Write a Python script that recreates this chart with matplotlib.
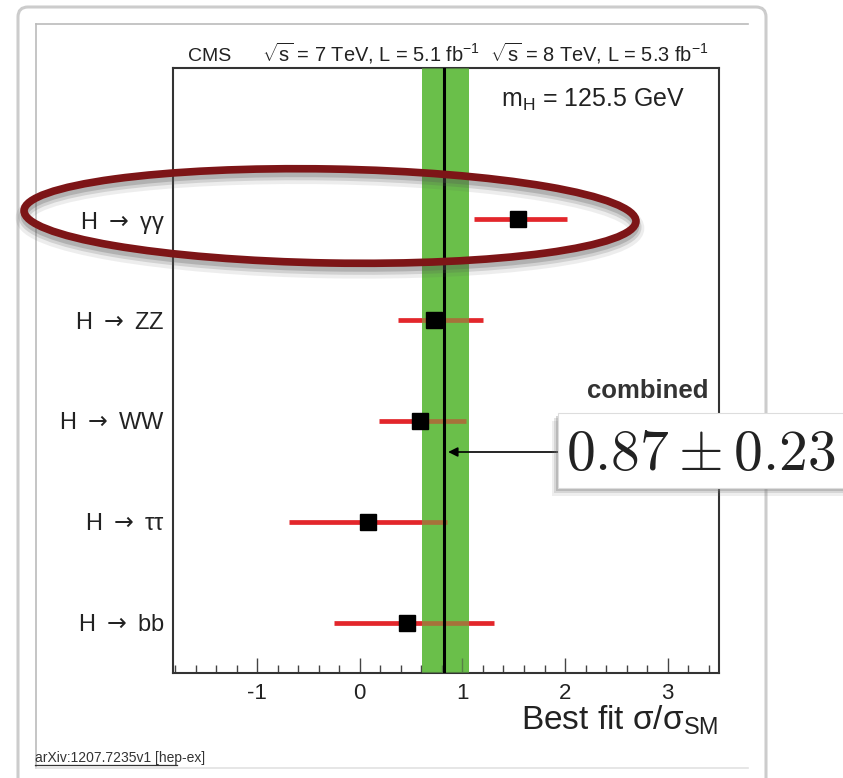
import matplotlib
matplotlib.use("Agg")
import matplotlib.pyplot as plt
from matplotlib.patches import Ellipse, Rectangle, FancyBboxPatch
from matplotlib.lines import Line2D
from matplotlib.transforms import IdentityTransform
from matplotlib.ticker import MultipleLocator

plt.rcParams['font.family'] = ['Liberation Sans', 'DejaVu Sans']
plt.rcParams['mathtext.fontset'] = 'custom'
plt.rcParams['mathtext.rm'] = 'Liberation Sans'
plt.rcParams['mathtext.it'] = 'Liberation Sans:italic'
plt.rcParams['mathtext.bf'] = 'Liberation Sans:bold'
plt.rcParams['mathtext.sf'] = 'Liberation Sans'
plt.rcParams['axes.unicode_minus'] = False

# ---------------- data ----------------
channels = ['H $\\rightarrow$ bb', 'H $\\rightarrow$ ττ', 'H $\\rightarrow$ WW',
            'H $\\rightarrow$ ZZ', 'H $\\rightarrow$ γγ']   # bottom to top
mu = [0.46, 0.08, 0.59, 0.72, 1.54]
mu_lo = [-0.25, -0.69, 0.19, 0.37, 1.11]
mu_hi = [1.31, 0.85, 1.03, 1.20, 2.02]
mu_comb = 0.82
comb_lo = 0.61
comb_hi = 1.06
xticks = [-1, 0, 1, 2, 3]
xtick_labels = ['-1', '0', '1', '2', '3']
xlim = (-1.82, 3.5)
ylim = (-0.5, 5.5)

W, H = 843, 778
fig = plt.figure(figsize=(W / 100, H / 100), dpi=100)
fig.patch.set_facecolor('white')

def fx(x):
    return x / W

def fy(y):
    return 1 - y / H

ax = fig.add_axes([fx(173), fy(673), fx(719) - fx(173), fy(68) - fy(673)])
ax.set_xlim(*xlim)
ax.set_ylim(*ylim)

green = '#6abf4a'
red = '#e3262b'
ypos = list(range(len(channels)))

# green band (opaque), red error bars, translucent band on top
ax.axvspan(comb_lo, comb_hi, color=green, lw=0, zorder=1)
ax.hlines(ypos, mu_lo, mu_hi, colors=red, lw=3.4, zorder=2)
ax.axvspan(comb_lo, comb_hi, color=green, alpha=0.5, lw=0, zorder=3)
ax.axvline(mu_comb, color='black', lw=2.2, zorder=4)
ax.plot(mu, ypos, ls='none', marker='s', ms=12, color='black', zorder=5)

ax.set_yticks(ypos)
ax.set_yticklabels(channels, fontsize=17, color='#222222', math_fontfamily='dejavusans')
ax.tick_params(axis='y', length=0, pad=6)
ax.set_xticks(xticks)
ax.set_xticklabels(xtick_labels, fontsize=16, color='#222222')
ax.xaxis.set_minor_locator(MultipleLocator(0.2))
ax.tick_params(axis='x', which='major', direction='in', length=11, width=1.0,
               color='#444444', pad=7, top=False)
ax.tick_params(axis='x', which='minor', direction='in', length=6, width=1.0,
               color='#444444', top=False)
for s in ax.spines.values():
    s.set_linewidth(1.5)
    s.set_color('#333333')

# texts
fig.text(fx(210), fy(61), 'CMS', ha='center', va='baseline', fontsize=14, color='#222222')
fig.text(fx(262), fy(62), r'$\sqrt{\mathrm{s}}$ = 7 TeV, L = 5.1 fb$^{-1}$  $\sqrt{\mathrm{s}}$ = 8 TeV, L = 5.3 fb$^{-1}$',
         ha='left', va='baseline', fontsize=14.4, color='#222222')
fig.text(fx(685), fy(107), r'm$_{\mathrm{H}}$ = 125.5 GeV', ha='right', va='baseline',
         fontsize=18, color='#222222')
fig.text(fx(718), fy(730), r'Best fit σ/σ$_{\mathrm{SM}}$', ha='right', va='baseline',
         fontsize=24, color='#222222')
fig.text(fx(708), fy(398), 'combined', ha='right', va='baseline', fontsize=18.5,
         fontweight='bold', color='#333333')
fig.text(fx(35), fy(762), 'arXiv:1207.7235v1 [hep-ex]', ha='left', va='baseline',
         fontsize=10, color='#333333', zorder=5)

# page decoration
fig.add_artist(FancyBboxPatch((18, H - 800), 748, 793, boxstyle='round,pad=0,rounding_size=10',
                              transform=IdentityTransform(), fill=False, ec='#cccccc', lw=2.2,
                              zorder=0))
fig.add_artist(Line2D([36, 748], [H - 24, H - 24], transform=IdentityTransform(), color='#bbbbbb', lw=1.2, zorder=0))
fig.add_artist(Line2D([36, 36], [H - 24, H - 768], transform=IdentityTransform(), color='#bbbbbb', lw=1.2, zorder=0))
fig.add_artist(Line2D([36, 748], [H - 768, H - 768], transform=IdentityTransform(), color='#e2e2e2', lw=1.2, zorder=0))
fig.add_artist(Line2D([fx(35), fx(177)], [fy(764.5), fy(764.5)], transform=fig.transFigure,
                      color='#333333', lw=0.9, zorder=5))

# hand-drawn ellipse with shadow
ecx, ecy = 330, H - 216
for off, lw, a in [(7, 12, 0.10), (6, 8, 0.18), (5, 5, 0.25)]:
    fig.add_artist(Ellipse((ecx, ecy - off), 612, 94, angle=-1, transform=IdentityTransform(),
                           fill=False, ec='#555555', lw=lw, alpha=a, zorder=6))
fig.add_artist(Ellipse((ecx, ecy), 612, 94, angle=-1, transform=IdentityTransform(),
                       fill=False, ec='#7d1517', lw=5.5, zorder=7))

# combined box
for dx, dy, a in [(-6, -8, 0.12), (-4, -5, 0.2), (-2, -3, 0.3)]:
    fig.add_artist(Rectangle((558 + dx, H - 488 + dy), 320, 75, transform=IdentityTransform(),
                             fc='#777777', ec='none', alpha=a, zorder=8))
fig.add_artist(Rectangle((558, H - 488), 320, 75, transform=IdentityTransform(),
                         fc='white', ec='#dddddd', lw=0.8, zorder=9))
fig.text(fx(566), fy(470), r'$0.87 \pm 0.23$', ha='left', va='baseline', fontsize=41.5,
         math_fontfamily='cm', color='#222222', zorder=10)

ax.annotate('', xy=(mu_comb, fy(452)), xycoords=('data', 'figure fraction'),
            xytext=(fx(558), fy(452)), textcoords='figure fraction',
            arrowprops=dict(arrowstyle='-|>', color='black', lw=1.2, shrinkA=0, shrinkB=3,
                            mutation_scale=14), zorder=6)

fig.savefig('out.png', dpi=100)
